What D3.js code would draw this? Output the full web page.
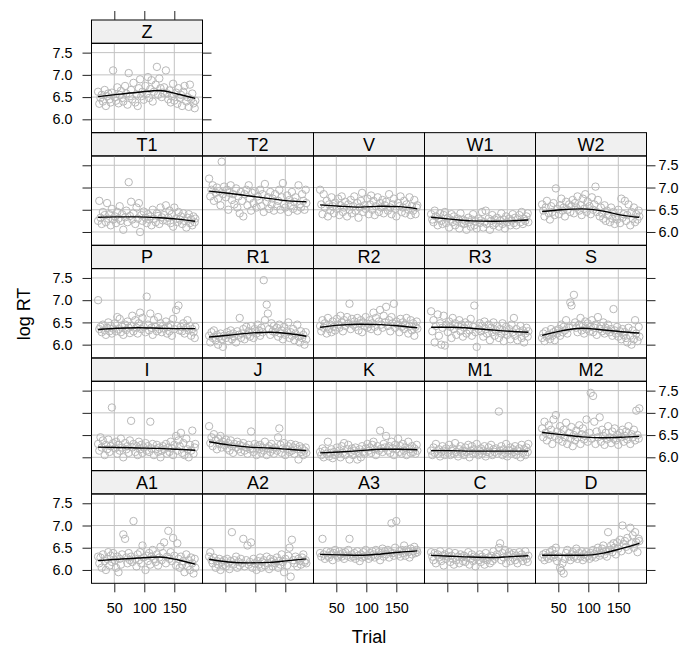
<!DOCTYPE html>
<html>
<head>
<meta charset="utf-8">
<script src="https://cdn.jsdelivr.net/npm/d3@7"></script>
<style>
  html, body { margin: 0; padding: 0; background: #fff; }
  svg { display: block; font-family: "Liberation Sans", Arial, Helvetica, sans-serif; }
</style>
</head>
<body>
<div id="chart"></div>
<script>
// Trial numbers (same ordering for every subject)
const trials = [23,25,27,29,31,34,36,38,40,42,44,46,48,
  51,53,55,57,59,61,63,65,68,70,72,74,76,
  78,80,82,85,87,89,91,93,95,97,99,102,104,
  106,108,110,112,114,116,119,121,123,125,127,129,131,
  133,136,138,140,142,144,146,148,150,153,155,157,159,
  161,163,165,167,170,172,174,176,178,180,182,184,185];

// panel order as lattice draws them (bottom-left first)
const subjects = ['A1','A2','A3','C','D','I','J','K','M1','M2','P','R1','R2','R3','S','T1','T2','V','W1','W2','Z'];

const xTicks = [50, 100, 150];
const yTicks = [6.0, 6.5, 7.0, 7.5];
const fitTrials = [23, 55, 90, 125, 155, 185];

// log RT per subject
const rtA1 = [6.30,6.15,6.28,6.05,6.35,6.20,6.00,6.25,6.40,6.10,6.32,6.18,6.38,
  6.22,6.05,6.30,5.95,6.25,6.12,6.35,6.80,6.70,6.28,6.15,6.38,6.22,
  6.30,6.18,7.10,6.25,6.08,6.35,6.22,6.40,6.15,6.55,6.28,6.00,6.32,
  6.20,6.38,6.12,6.30,6.45,6.25,6.18,6.35,6.10,6.28,6.52,6.22,6.38,
  6.62,6.15,6.30,6.88,6.25,6.40,6.20,6.72,6.32,6.10,6.60,6.25,6.05,
  6.30,6.12,6.20,5.95,6.35,6.08,6.22,6.00,6.28,6.15,5.92,6.25,6.05];
const rtA2 = [6.30,6.40,6.22,6.15,6.28,6.05,6.20,6.12,6.25,6.00,6.18,6.10,6.22,
  6.08,6.25,6.15,6.02,6.20,6.85,6.12,6.22,6.30,6.05,6.18,6.10,6.25,
  6.15,6.70,6.08,6.22,6.55,6.12,6.18,6.62,6.05,6.25,6.15,6.00,6.20,
  6.12,6.28,6.05,6.18,6.22,6.10,6.30,6.15,6.02,6.25,6.18,6.08,6.22,
  6.15,6.28,6.05,6.20,6.12,6.35,6.18,5.95,6.25,6.10,6.32,6.50,5.85,
  6.68,6.22,6.15,6.30,6.08,6.25,6.20,6.12,6.28,6.35,6.18,6.22,6.15];
const rtA3 = [6.38,6.30,6.70,6.35,6.25,6.42,6.32,6.28,6.40,6.35,6.22,6.38,6.45,
  6.32,6.28,6.42,6.35,6.30,6.38,6.25,6.40,6.32,6.45,6.70,6.28,6.35,
  6.30,6.38,6.25,6.42,6.32,6.20,6.35,6.28,6.40,6.30,6.45,6.33,6.25,
  6.38,6.30,6.42,6.35,6.28,6.45,6.32,6.40,6.22,6.38,6.48,6.30,6.42,
  6.35,6.45,6.28,6.40,7.05,6.38,6.32,6.50,7.10,6.35,6.42,6.30,6.45,
  6.38,6.55,6.32,6.45,6.40,6.28,6.48,6.35,6.42,6.52,6.38,6.45,6.40];
const rtC = [6.40,6.30,6.22,6.38,6.15,6.35,6.28,6.42,6.20,6.32,6.10,6.35,6.25,
  6.30,6.40,6.18,6.32,6.25,6.12,6.38,6.22,6.30,6.15,6.35,6.28,6.20,
  6.32,6.18,6.28,6.40,6.12,6.25,6.35,6.20,6.30,6.08,6.28,6.22,6.35,
  6.18,6.30,6.25,6.12,6.38,6.22,6.28,6.15,6.32,6.20,6.42,6.25,6.30,
  6.35,6.50,6.60,6.22,6.38,6.28,6.45,6.15,6.32,6.40,6.20,6.35,6.28,
  6.38,6.22,6.32,6.15,6.40,6.28,6.35,6.20,6.30,6.42,6.25,6.18,6.32];
const rtD = [6.28,6.35,6.22,6.38,6.30,6.25,6.40,6.32,6.45,6.28,6.35,6.50,6.20,
  6.30,6.05,5.98,6.15,5.92,6.25,6.38,6.45,6.30,6.22,6.35,6.40,6.28,
  6.32,6.48,6.25,6.38,6.30,6.42,6.22,6.35,6.28,6.40,6.32,6.25,6.38,
  6.30,6.45,6.35,6.28,6.42,6.50,6.32,6.38,6.48,6.55,6.35,6.42,6.30,
  6.85,6.45,6.55,6.40,6.60,6.50,6.35,6.62,6.48,6.68,6.42,7.00,6.58,
  6.65,6.52,6.72,6.45,6.95,6.60,6.78,6.50,6.85,6.62,6.40,6.70,6.65];
const rtI = [6.30,6.15,6.45,6.22,6.38,6.05,6.28,6.18,6.40,6.12,6.25,7.12,6.32,
  6.20,6.35,6.08,6.28,6.15,6.42,6.22,6.00,6.32,6.18,6.25,6.10,6.38,
  6.82,6.22,6.30,6.12,6.25,6.05,6.35,6.18,6.28,6.10,6.22,6.32,6.15,
  6.25,6.12,6.80,6.20,6.30,6.05,6.18,6.28,6.12,6.22,6.00,6.15,6.25,
  6.18,6.30,6.08,6.22,6.12,6.35,6.20,6.05,6.28,6.48,6.15,6.38,6.25,
  6.55,6.10,6.32,6.05,6.42,6.18,6.00,6.28,6.15,6.60,6.08,6.22,6.30];
const rtJ = [6.70,6.32,6.45,6.25,6.52,6.38,6.18,6.42,6.30,6.48,6.22,6.35,6.28,
  6.40,6.20,6.32,6.15,6.38,6.25,6.10,6.30,6.22,6.35,6.18,6.28,6.12,
  6.25,6.32,6.15,6.22,6.08,6.28,6.18,6.58,6.20,6.12,6.30,6.05,6.25,
  6.18,6.28,6.10,6.22,6.15,6.35,6.05,6.20,6.25,6.12,6.30,6.18,6.08,
  6.22,6.15,6.45,6.65,6.28,6.10,6.20,6.32,6.05,6.18,6.25,6.12,6.30,
  6.15,6.22,6.08,6.28,6.18,5.95,6.25,6.12,6.20,6.05,6.15,6.22,6.10];
const rtK = [6.12,6.05,6.20,6.00,6.15,6.08,6.35,6.02,6.10,6.18,5.98,6.12,6.05,
  6.22,6.08,6.15,6.00,6.25,6.10,6.32,6.05,6.18,6.28,5.95,6.12,6.20,
  6.05,6.15,6.22,5.95,6.10,6.18,6.00,6.25,6.12,6.08,6.20,6.30,6.15,
  6.22,6.10,6.28,6.35,6.18,6.05,6.25,6.15,6.60,6.20,6.12,6.30,6.22,
  6.48,6.15,6.25,6.10,6.35,6.20,6.05,6.28,6.18,6.42,6.12,6.25,6.08,
  6.30,6.15,6.22,6.05,6.35,6.18,6.10,6.25,6.12,6.20,6.08,6.28,6.15];
const rtM1 = [6.15,6.05,6.22,6.10,6.30,6.08,6.18,6.02,6.12,6.25,6.15,6.05,6.20,
  6.10,6.28,6.05,6.15,6.20,6.08,6.32,6.12,6.02,6.18,6.25,6.10,6.15,
  6.05,6.22,6.12,6.28,6.00,6.15,6.25,6.08,6.18,6.10,6.30,6.05,6.15,
  6.20,6.08,6.15,6.25,6.02,6.12,6.22,6.10,6.28,6.05,6.18,6.12,6.20,
  6.08,7.03,6.15,6.25,6.05,6.18,6.10,6.30,6.02,6.15,6.22,6.08,6.18,
  6.12,6.25,6.05,6.15,6.20,6.00,6.28,6.10,6.18,6.05,6.22,6.12,6.30];
const rtM2 = [6.65,6.45,6.80,6.55,6.38,6.72,6.50,6.62,6.30,6.85,6.48,6.95,6.58,
  6.40,6.70,6.52,6.35,6.62,6.45,6.78,6.30,6.55,6.42,6.68,6.25,6.50,
  6.38,6.60,6.45,6.72,6.30,6.52,6.65,6.40,6.48,6.85,6.35,6.55,7.45,
  6.42,7.38,6.80,6.30,6.58,6.45,6.90,6.35,6.62,6.48,6.28,6.55,6.40,
  6.70,6.45,6.32,6.58,6.42,6.65,6.38,6.50,6.28,6.55,6.45,6.62,6.35,
  6.48,6.58,6.40,6.70,6.30,6.52,6.45,6.62,6.38,7.05,6.50,6.42,7.10];
const rtP = [7.00,6.35,6.40,6.28,6.45,6.32,6.22,6.38,6.50,6.30,6.42,6.25,6.36,
  6.48,6.30,6.62,6.35,6.58,6.28,6.40,6.22,6.45,6.33,6.52,6.38,6.26,
  6.42,6.65,6.30,6.55,6.38,6.25,6.48,6.72,6.35,6.60,6.40,6.28,7.08,
  6.45,6.32,6.70,6.38,6.22,6.55,6.40,6.30,6.62,6.35,6.48,6.28,6.42,
  6.36,6.52,6.25,6.40,6.30,6.45,6.20,6.58,6.35,6.78,6.42,6.88,6.32,
  6.40,6.30,6.48,6.25,6.38,6.55,6.32,6.42,6.20,6.35,6.28,6.15,6.40];
const rtR1 = [6.20,6.05,6.28,6.15,6.32,6.10,6.22,6.00,6.18,6.25,6.12,5.95,6.20,
  6.15,6.28,6.08,6.22,6.32,6.12,6.25,6.18,6.05,6.30,6.22,6.60,6.15,
  6.25,6.35,6.12,6.40,6.22,6.30,6.18,6.42,6.28,6.15,6.35,6.25,6.45,
  6.32,6.20,6.38,6.28,7.45,6.55,6.90,6.70,6.35,6.22,6.48,6.30,6.42,
  6.28,6.38,6.18,6.45,6.25,6.32,6.12,6.40,6.22,6.30,6.50,6.15,6.28,
  6.20,6.35,6.10,6.25,6.45,6.18,6.05,6.30,6.15,6.22,6.00,6.28,6.12];
const rtR2 = [6.42,6.30,6.55,6.38,6.48,6.25,6.60,6.35,6.45,6.28,6.52,6.40,6.32,
  6.58,6.45,6.38,6.65,6.50,6.30,6.55,6.42,6.62,6.48,6.92,6.35,6.58,
  6.45,6.52,6.40,6.60,6.32,6.48,6.55,6.28,6.50,6.42,6.62,6.38,6.46,
  6.55,6.35,6.48,6.72,6.40,6.60,6.30,6.52,6.78,6.45,6.38,6.65,6.50,
  6.85,6.42,6.55,6.30,6.62,6.48,6.92,6.38,6.52,6.45,6.28,6.58,6.40,
  6.50,6.35,6.45,6.60,6.25,6.42,6.55,6.32,6.48,6.20,6.40,6.52,6.36];
const rtR3 = [6.75,6.30,6.55,6.05,6.42,6.68,6.20,6.48,6.00,6.38,6.65,5.98,6.45,
  6.28,6.52,6.40,6.15,6.60,6.35,6.48,6.22,6.42,6.55,6.30,6.45,6.18,
  6.38,6.50,6.25,6.45,6.32,6.58,6.20,6.40,6.88,6.28,5.95,6.35,6.48,
  6.30,6.42,6.18,6.52,6.35,6.25,6.45,6.10,6.38,6.28,6.50,6.20,6.32,
  6.42,6.15,6.35,6.25,6.48,6.08,6.30,6.40,6.22,6.35,6.12,6.45,6.28,
  6.60,6.20,6.35,6.10,6.28,6.42,6.15,6.32,6.05,6.25,6.38,6.18,6.30];
const rtS = [6.15,6.25,6.08,6.30,6.18,6.22,6.12,6.35,6.20,6.28,6.10,6.32,6.25,
  6.35,6.20,6.45,6.28,6.40,6.32,6.55,6.25,6.38,6.95,6.88,6.42,7.12,
  6.50,6.38,6.28,6.45,6.60,6.32,6.42,6.25,6.52,6.35,6.48,6.30,6.40,
  6.55,6.28,6.38,6.45,6.22,6.62,6.35,6.42,6.30,6.50,6.25,6.38,6.32,
  6.45,6.28,6.35,6.20,6.80,6.32,6.25,6.40,6.18,6.30,6.12,6.35,6.22,
  6.28,6.15,6.05,6.38,6.20,6.00,6.32,6.12,6.55,6.25,6.08,6.40,6.18];
const rtT1 = [6.25,6.70,6.32,6.18,6.45,6.38,6.22,6.65,6.30,6.40,6.15,6.52,6.28,
  6.35,6.20,6.45,6.30,6.58,6.25,6.40,6.05,6.33,6.48,6.22,7.12,6.36,
  6.68,6.28,6.42,6.18,6.55,6.30,6.65,6.00,6.38,6.25,6.46,6.32,6.20,
  6.40,6.28,6.35,6.15,6.50,6.30,6.22,6.42,6.36,6.18,6.55,6.33,6.26,
  6.38,6.60,6.25,6.32,6.48,6.20,6.40,6.12,6.55,6.30,6.22,6.45,6.28,
  6.35,6.18,6.42,6.25,6.10,6.32,6.40,6.20,6.28,6.15,6.35,6.22,6.30];
const rtT2 = [7.20,6.80,6.95,7.05,6.70,6.88,7.00,6.75,6.92,6.60,7.58,6.85,7.02,
  6.78,6.95,6.50,6.88,7.05,6.72,6.85,6.62,6.98,6.55,6.80,6.42,6.90,
  6.70,6.35,6.85,6.95,6.60,7.05,6.75,6.48,6.88,6.65,6.92,6.55,6.80,
  6.72,6.95,6.58,6.85,6.45,7.08,6.68,6.78,6.52,6.90,6.62,6.75,6.48,
  6.85,6.58,6.70,6.95,6.50,6.78,7.10,6.62,6.55,6.82,6.45,6.72,6.60,
  6.90,6.52,6.68,6.78,6.48,7.05,6.62,6.55,6.85,6.70,6.50,6.95,6.65];
const rtV = [6.95,6.62,6.40,6.85,6.55,6.70,6.35,6.62,6.48,6.78,6.58,6.42,6.66,
  6.52,6.75,6.38,6.60,6.80,6.45,6.55,6.68,6.35,6.62,6.50,6.72,6.42,
  6.58,6.80,6.48,6.65,6.32,6.55,6.70,6.88,6.45,6.60,6.52,6.75,6.40,
  6.62,6.82,6.50,6.70,6.38,6.58,6.78,6.45,6.65,6.55,6.72,6.42,6.60,
  6.68,6.48,6.85,6.55,6.40,6.62,6.75,6.52,6.35,6.65,6.58,6.80,6.45,
  6.55,6.70,6.42,6.62,6.50,6.78,6.38,6.58,6.48,6.72,6.40,6.55,6.60];
const rtW1 = [6.40,6.28,6.22,6.48,6.35,6.15,6.30,6.42,6.25,6.18,6.38,6.45,6.20,
  6.32,6.10,6.28,6.40,6.22,6.35,6.15,6.25,6.30,6.08,6.42,6.20,6.28,
  6.18,6.25,6.05,6.32,6.22,6.12,6.28,6.40,6.15,6.24,6.08,6.30,6.20,
  6.26,6.45,6.10,6.22,6.48,6.18,6.30,6.05,6.25,6.38,6.15,6.28,6.20,
  6.32,6.12,6.25,6.42,6.18,6.28,6.08,6.35,6.22,6.30,6.15,6.26,6.40,
  6.20,6.32,6.15,6.28,6.38,6.22,6.45,6.18,6.30,6.25,6.35,6.42,6.22];
const rtW2 = [6.62,6.48,6.35,6.55,6.70,6.42,6.28,6.58,6.45,6.65,6.38,6.98,6.52,
  6.40,6.60,6.75,6.48,6.55,6.35,6.68,6.50,6.62,6.45,6.58,6.72,6.42,
  6.65,6.55,6.80,6.48,6.60,6.38,6.75,6.52,6.85,6.45,6.68,6.58,6.40,
  6.78,6.50,6.62,7.02,6.45,6.72,6.35,6.55,6.42,6.30,6.60,6.25,6.48,
  6.38,6.22,6.55,6.30,6.45,6.18,6.35,6.28,6.50,6.20,6.75,6.32,6.40,
  6.70,6.25,6.38,6.62,6.15,6.45,6.30,6.55,6.22,6.40,6.28,6.48,6.35];
const rtZ = [6.62,6.35,6.48,6.55,6.40,6.66,6.30,6.52,6.58,6.45,6.38,6.60,7.10,
  6.50,6.42,6.72,6.36,6.55,6.64,6.48,6.40,6.75,6.58,6.33,7.04,6.52,
  6.66,6.45,6.82,6.38,6.56,6.30,6.70,6.90,6.52,6.62,6.44,6.75,6.58,
  6.95,6.48,6.68,6.88,6.40,6.62,6.78,7.18,6.55,6.92,6.70,6.50,6.60,
  6.72,7.10,6.58,6.45,6.65,6.38,6.52,6.80,6.42,6.60,6.35,6.70,6.48,
  6.55,6.30,6.62,6.75,6.40,6.50,6.28,6.78,6.45,6.58,6.36,6.25,6.42];

// loess smooth per subject, sampled at fitTrials
const fitA1 = [6.21,6.24,6.27,6.29,6.23,6.13];
const fitA2 = [6.24,6.18,6.16,6.17,6.21,6.25];
const fitA3 = [6.35,6.34,6.33,6.36,6.40,6.43];
const fitC  = [6.33,6.31,6.29,6.28,6.30,6.32];
const fitD  = [6.33,6.33,6.33,6.38,6.48,6.60];
const fitI  = [6.23,6.22,6.21,6.20,6.18,6.16];
const fitJ  = [6.35,6.28,6.23,6.21,6.18,6.15];
const fitK  = [6.10,6.12,6.15,6.18,6.18,6.17];
const fitM1 = [6.15,6.15,6.14,6.14,6.14,6.14];
const fitM2 = [6.56,6.51,6.46,6.44,6.45,6.47];
const fitP  = [6.34,6.37,6.38,6.37,6.36,6.36];
const fitR1 = [6.17,6.21,6.26,6.28,6.25,6.19];
const fitR2 = [6.39,6.44,6.46,6.45,6.42,6.38];
const fitR3 = [6.39,6.39,6.37,6.33,6.30,6.28];
const fitS  = [6.21,6.31,6.37,6.33,6.29,6.26];
const fitT1 = [6.33,6.34,6.34,6.32,6.29,6.24];
const fitT2 = [6.92,6.87,6.81,6.75,6.70,6.68];
const fitV  = [6.61,6.58,6.56,6.58,6.57,6.52];
const fitW1 = [6.33,6.29,6.25,6.24,6.25,6.27];
const fitW2 = [6.46,6.50,6.52,6.47,6.38,6.33];
const fitZ  = [6.51,6.56,6.61,6.65,6.57,6.47];

const rtData = { A1: rtA1, A2: rtA2, A3: rtA3, C: rtC, D: rtD, I: rtI, J: rtJ, K: rtK,
  M1: rtM1, M2: rtM2, P: rtP, R1: rtR1, R2: rtR2, R3: rtR3, S: rtS, T1: rtT1, T2: rtT2,
  V: rtV, W1: rtW1, W2: rtW2, Z: rtZ };
const fitData = { A1: fitA1, A2: fitA2, A3: fitA3, C: fitC, D: fitD, I: fitI, J: fitJ, K: fitK,
  M1: fitM1, M2: fitM2, P: fitP, R1: fitR1, R2: fitR2, R3: fitR3, S: fitS, T1: fitT1, T2: fitT2,
  V: fitV, W1: fitW1, W2: fitW2, Z: fitZ };

const width = 693, height = 646;
const margin = { left: 91.5, top: 20 };
const nCol = 5, nRow = 5;
const colW = 111, rowH = 112.66, stripH = 23.3;
const panelH = rowH - stripH;
const tickFont = '14.4px';
const stripFont = '18px';

const svg = d3.select('#chart').append('svg')
    .attr('width', width)
    .attr('height', height);

const xScale = d3.scaleLinear().domain([12, 197]).range([0, colW]);
const yScale = d3.scaleLinear().domain([5.70, 7.71]).range([panelH, 0]);

const fitLine = d3.line()
    .x(d => xScale(d[0]))
    .y(d => yScale(d[1]))
    .curve(d3.curveMonotoneX);

function styleAxis(sel, labelled) {
    sel.select('.domain').remove();
    sel.selectAll('line').attr('stroke', '#222');
    sel.selectAll('text').style('font-size', tickFont).attr('fill', '#000');
    if (!labelled) sel.selectAll('text').remove();
}

subjects.forEach((s, k) => {
    const col = k % nCol;
    const rowFromBottom = Math.floor(k / nCol);
    const row = nRow - 1 - rowFromBottom;
    const px = margin.left + col * colW;
    const py = margin.top + row * rowH;
    const isLastInRow = col === nCol - 1 || k === subjects.length - 1;

    const g = svg.append('g').attr('transform', `translate(${px},${py})`);

    // strip
    g.append('rect')
        .attr('width', colW).attr('height', stripH)
        .attr('fill', '#f0f0f0').attr('stroke', '#000');
    g.append('text')
        .attr('x', colW / 2).attr('y', stripH / 2).attr('dy', '0.36em')
        .attr('text-anchor', 'middle')
        .style('font-size', stripFont)
        .text(s);

    const p = g.append('g').attr('transform', `translate(0,${stripH})`);

    // reference grid
    p.selectAll('.gx').data(xTicks).join('line')
        .attr('x1', d => xScale(d)).attr('x2', d => xScale(d))
        .attr('y1', 0).attr('y2', panelH)
        .attr('stroke', '#c2c2c2').attr('stroke-width', 1);
    p.selectAll('.gy').data(yTicks).join('line')
        .attr('x1', 0).attr('x2', colW)
        .attr('y1', d => yScale(d)).attr('y2', d => yScale(d))
        .attr('stroke', '#c2c2c2').attr('stroke-width', 1);

    // points
    const pts = trials.map((t, i) => [t, rtData[s][i]]);
    p.selectAll('circle').data(pts).join('circle')
        .attr('cx', d => xScale(d[0]))
        .attr('cy', d => yScale(d[1]))
        .attr('r', 3.7)
        .attr('fill', 'none')
        .attr('stroke', '#b8b8b8')
        .attr('stroke-width', 1);

    // smooth
    p.append('path')
        .datum(fitTrials.map((t, i) => [t, fitData[s][i]]))
        .attr('fill', 'none')
        .attr('stroke', '#000')
        .attr('stroke-width', 1.4)
        .attr('d', fitLine);

    // panel border
    p.append('rect')
        .attr('width', colW).attr('height', panelH)
        .attr('fill', 'none').attr('stroke', '#000');

    // axes, alternating like lattice
    if (col === 0) {
        p.append('g')
            .call(d3.axisLeft(yScale).tickValues(yTicks).tickFormat(d3.format('.1f'))
                .tickSize(9).tickPadding(10).tickSizeOuter(0))
            .call(a => styleAxis(a, rowFromBottom % 2 === 0));
    }
    if (isLastInRow) {
        p.append('g')
            .attr('transform', `translate(${colW},0)`)
            .call(d3.axisRight(yScale).tickValues(yTicks).tickFormat(d3.format('.1f'))
                .tickSize(9).tickPadding(3).tickSizeOuter(0))
            .call(a => styleAxis(a, rowFromBottom % 2 === 1));
    }
    if (rowFromBottom === 0) {
        p.append('g')
            .attr('transform', `translate(0,${panelH})`)
            .call(d3.axisBottom(xScale).tickValues(xTicks)
                .tickSize(9).tickPadding(10).tickSizeOuter(0))
            .call(a => styleAxis(a, col % 2 === 0));
    }
    if (row === 0) {
        g.append('g')
            .call(d3.axisTop(xScale).tickValues(xTicks)
                .tickSize(9).tickPadding(4).tickSizeOuter(0))
            .call(a => styleAxis(a, col % 2 === 1));
    }
});

// axis titles
svg.append('text')
    .attr('x', margin.left + nCol * colW / 2)
    .attr('y', 643)
    .attr('text-anchor', 'middle')
    .style('font-size', '18px')
    .text('Trial');

svg.append('text')
    .attr('transform', 'translate(29.5,314) rotate(-90)')
    .attr('text-anchor', 'middle')
    .style('font-size', '18px')
    .text('log RT');
</script>
</body>
</html>
